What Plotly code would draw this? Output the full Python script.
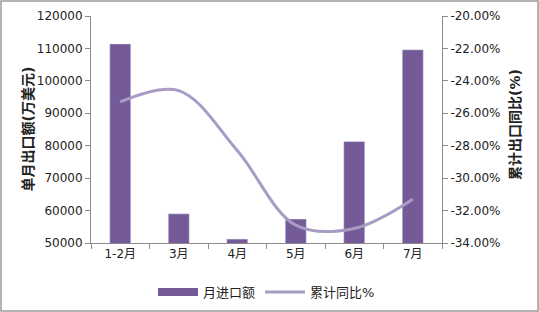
import plotly.graph_objects as go

categories = ["1-2月", "3月", "4月", "5月", "6月", "7月"]
monthly_import = [111400, 59000, 51200, 57400, 81300, 109600]
cum_yoy = [-25.3, -24.6, -28.3, -32.9, -33.1, -31.3]
left_ticks = [50000, 60000, 70000, 80000, 90000, 100000, 110000, 120000]
right_ticks = [-34, -32, -30, -28, -26, -24, -22, -20]

bar_color = "#745B98"
line_color = "#A89CC6"
axis_color = "#8C8C8C"
font_family = "DejaVu Sans, Verdana, Noto Sans CJK SC"

fig = go.Figure()
fig.add_trace(go.Bar(x=categories, y=monthly_import, marker_color=bar_color,
                     width=0.36, showlegend=False, name="月进口额"))
fig.add_trace(go.Scatter(x=[None], y=[None], mode="lines", name="月进口额",
                         line=dict(color=bar_color, width=8)))
fig.add_trace(go.Scatter(x=categories, y=cum_yoy, yaxis="y2", mode="lines",
                         name="累计同比%", line=dict(color=line_color, width=3, shape="spline", smoothing=1.0)))

fig.update_layout(
    width=539, height=312,
    margin=dict(l=91, r=97, t=16, b=69, autoexpand=False),
    paper_bgcolor="white", plot_bgcolor="white",
    font=dict(family=font_family, size=12, color="#222"),
    xaxis=dict(showline=True, linecolor=axis_color, ticks="outside", tickcolor=axis_color,
               ticklen=5, tickson="boundaries", showgrid=False, tickfont=dict(size=12)),
    yaxis=dict(range=[50000, 120000], tickvals=left_ticks, tickformat="d", showline=True,
               linecolor=axis_color, ticks="outside", tickcolor=axis_color, ticklen=5,
               showgrid=False, zeroline=False, tickfont=dict(size=12)),
    yaxis2=dict(range=[-34, -20], tickvals=right_ticks,
                ticktext=[f"{v:.2f}%" for v in right_ticks], overlaying="y", side="right",
                showline=True, linecolor=axis_color, ticks="outside", tickcolor=axis_color,
                ticklen=5, showgrid=False, zeroline=False, tickfont=dict(size=12)),
    legend=dict(orientation="h", x=0.5, xanchor="center", y=-49/227, yanchor="middle",
                font=dict(size=13), itemwidth=40, traceorder="normal"),
    annotations=[
        dict(text="<b>单月出口额(万美元)</b>", xref="paper", yref="paper",
             x=-64/351, xanchor="center", y=0.5, textangle=-90, showarrow=False, font=dict(size=14)),
        dict(text="<b>累计出口同比(%)</b>", xref="paper", yref="paper",
             x=1 + 73/351, xanchor="center", y=0.52, textangle=-90, showarrow=False, font=dict(size=14)),
    ],
    shapes=[dict(type="rect", xref="paper", yref="paper",
                 x0=-90/351, x1=1 + 96/351, y0=-68/227, y1=1 + 15/227,
                 line=dict(color="#9A9A9A", width=1.5))],
)

fig.write_html("out.html")
